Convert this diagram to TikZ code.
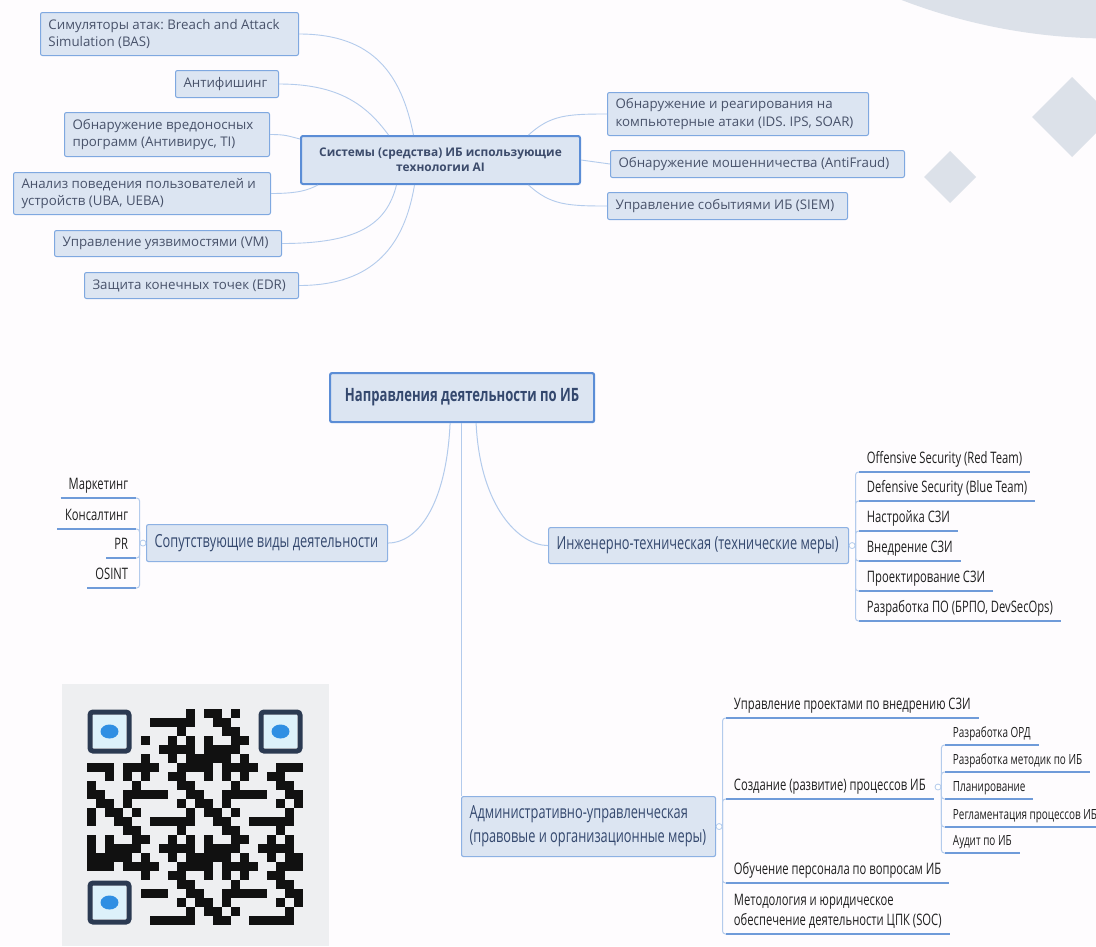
\documentclass[tikz,border=0pt]{standalone}
\usepackage{fontspec}
\setmainfont{Open Sans}
\newfontfamily\narrowfont[FakeStretch=0.71]{Open Sans}
\definecolor{pagebg}{HTML}{FEFCFE}
\definecolor{deco}{HTML}{DCE1E9}
\definecolor{boxfill}{HTML}{DCE5F2}
\definecolor{boxline}{HTML}{7FA8E0}
\definecolor{hubline}{HTML}{5B8DD6}
\definecolor{toptext}{HTML}{48526A}
\definecolor{hubtext}{HTML}{3C4B6B}
\definecolor{twigcol}{HTML}{B3CBEC}
\definecolor{mapline}{HTML}{8DB1E3}
\definecolor{maptext}{HTML}{34486E}
\definecolor{ulcol}{HTML}{6F9BD9}
\definecolor{leaftext}{HTML}{1F1F1F}
\definecolor{qrbg}{HTML}{EEEFF1}
\definecolor{qrdark}{HTML}{111111}
\definecolor{finderdark}{HTML}{2B3A52}
\definecolor{findercore}{HTML}{DDF1FA}
\definecolor{bugblue}{HTML}{2F8FE3}
\frenchspacing
\begin{document}
\begin{tikzpicture}[x=1pt,y=-1pt,line width=0.9pt,
    aibox/.style={draw=boxline,fill=boxfill,rounded corners=2pt,line width=1pt,anchor=north west,
      inner xsep=8pt,inner ysep=0pt,align=flush left,text=toptext,font=\fontsize{13.3}{17.3}\selectfont},
    hubbox/.style={aibox,draw=hubline,line width=2pt,align=center,text=hubtext,
      font=\fontsize{11.9}{15}\selectfont\bfseries},
    branch/.style={draw=mapline,fill=boxfill,rounded corners=2pt,line width=1.1pt,anchor=north west,
      inner xsep=8pt,inner ysep=0pt,align=flush left,text=maptext,font=\narrowfont\fontsize{18}{24}\selectfont},
    rootbox/.style={branch,draw=hubline,line width=2.2pt,align=center,font=\narrowfont\fontsize{18.4}{24}\selectfont\bfseries},
    leaf/.style={inner xsep=7.5pt,inner ysep=2pt,align=left,text=leaftext,anchor=south west,
      execute at end node=\strut,font=\narrowfont\fontsize{15.8}{20}\selectfont},
    subleaf/.style={leaf,font=\narrowfont\fontsize{14}{17}\selectfont},
    leafline/.style={draw=ulcol,line width=1.6pt},
    twig/.style={draw=twigcol,line width=0.9pt},
    spine/.style={draw=twigcol,line width=1pt,rounded corners=3pt},
    knob/.style={circle,draw=twigcol,fill=white,line width=0.8pt,inner sep=0pt,minimum size=6pt}]
\useasboundingbox (0,0) rectangle (1096,946);
\clip (0,0) rectangle (1096,946);
\fill[pagebg] (0,0) rectangle (1096,946);
\fill[deco] (1110,-542.5) circle (581pt);
\fill[deco] (1072,77) -- (1112,117) -- (1072,157) -- (1032,117) -- cycle;
\fill[deco] (950,151) -- (976,177) -- (950,203) -- (924,177) -- cycle;

\node[hubbox,minimum width=279pt,minimum height=48pt] (hub) at (300,135) {Системы (средства) ИБ использующие\\технологии AI};
\node[aibox,text width=242pt,minimum height=43pt] (bas) at (40,12) {Симуляторы атак: Breach and Attack\\Simulation (BAS)};
\node[aibox,text width=87pt,minimum height=27pt] (ant) at (175,70) {Антифишинг};
\node[aibox,text width=189pt,minimum height=44pt] (mal) at (64,112) {Обнаружение вредоносных\\программ (Антивирус, TI)};
\node[aibox,text width=241pt,minimum height=42pt] (uba) at (13,172) {Анализ поведения пользователей и\\устройств (UBA, UEBA)};
\node[aibox,text width=211pt,minimum height=26pt] (vm) at (54,230) {Управление уязвимостями (VM)};
\node[aibox,text width=198pt,minimum height=26pt] (edr) at (84,272) {Защита конечных точек (EDR)};
\node[aibox,text width=245pt,minimum height=43pt] (ids) at (607,92) {Обнаружение и реагирования на\\компьютерные атаки (IDS. IPS, SOAR)};
\node[aibox,text width=278pt,minimum height=27pt] (fraud) at (610,150) {Обнаружение мошенничества (AntiFraud)};
\node[aibox,text width=224pt,minimum height=27pt] (siem) at (607,192) {Управление событиями ИБ (SIEM)};

\draw[twig] (bas.east) .. controls +(75,0) and +(-12,-60) .. ([xshift=-27pt]hub.north);
\draw[twig] (ant.east) .. controls +(60,0) and +(-22,-30) .. ([xshift=-52pt]hub.north);
\draw[twig] (mal.east) .. controls +(16,0) and +(-12,-3) .. ([yshift=-4pt]hub.north west);
\draw[twig] (uba.east) .. controls +(28,0) and +(-10,5) .. ([xshift=18pt]hub.south west);
\draw[twig] (vm.east) .. controls +(75,0) and +(-10,40) .. ([xshift=-44pt]hub.south);
\draw[twig] (edr.east) .. controls +(75,0) and +(-10,60) .. ([xshift=-26pt]hub.south);
\draw[twig] ([xshift=88pt]hub.north) .. controls +(22,-20) and +(-40,0) .. (ids.west);
\draw[twig] (hub.east) -- (fraud.west);
\draw[twig] ([xshift=88pt]hub.south) .. controls +(22,20) and +(-40,0) .. (siem.west);

\node[rootbox,minimum width=264pt,minimum height=49pt] (root) at (329,372) {Направления деятельности по ИБ};
\node[branch,text width=225pt,minimum height=37pt] (sop) at (146,524) {Сопутствующие виды деятельности};
\node[branch,text width=284pt,minimum height=36pt] (ing) at (548,527) {Инженерно-техническая (технические меры)};
\node[branch,text width=238pt,minimum height=60pt] (adm) at (461,796) {Административно-управленческая\\(правовые и организационные меры)};

\draw[twig,line width=1pt] ([xshift=-12pt]root.south) .. controls +(-4,85) and +(28,0) .. (sop.east);
\draw[twig,line width=1pt] ([xshift=14pt]root.south) .. controls +(4,85) and +(-28,0) .. (ing.west);
\draw[twig,line width=1pt] (adm.north west |- root.south) -- (adm.north west);

\node[leaf,anchor=south east] (mk) at (136,498) {Маркетинг};
\node[leaf,anchor=south east] (ks) at (136,529) {Консалтинг};
\node[leaf,anchor=south east] (pr) at (136,558) {PR};
\node[leaf,anchor=south east] (os) at (136,588) {OSINT};
\node[knob] (k1) at ([xshift=-3pt]sop.west) {};
\foreach \n in {mk,ks,pr,os} {
  \draw[spine] (k1.west) |- (\n.south east);
  \draw[leafline] (\n.south west) -- (\n.south east);
}

\node[leaf] (off) at (859,472) {Offensive Security (Red Team)};
\node[leaf] (def) at (859,501) {Defensive Security (Blue Team)};
\node[leaf] (nas) at (859,531) {Настройка СЗИ};
\node[leaf] (vne) at (859,561) {Внедрение СЗИ};
\node[leaf] (pro) at (859,591) {Проектирование СЗИ};
\node[leaf] (raz) at (859,621) {Разработка ПО (БРПО, DevSecOps)};
\node[knob] (k2) at ([xshift=3pt]ing.east) {};
\foreach \n in {off,def,nas,vne,pro,raz} {
  \draw[spine] (k2.east) |- (\n.south west);
  \draw[leafline] (\n.south west) -- (\n.south east);
}

\node[leaf] (upr) at (726,718) {Управление проектами по внедрению СЗИ};
\node[leaf] (cr) at (726,799) {Создание (развитие) процессов ИБ};
\node[leaf] (obu) at (726,883) {Обучение персонала по вопросам ИБ};
\node[leaf] (met) at (726,934) {Методология и юридическое\\обеспечение деятельности ЦПК (SOC)};
\node[knob] (k3) at ([xshift=3pt]adm.east) {};
\foreach \n in {upr,cr,obu,met} {
  \draw[spine] (k3.east) |- (\n.south west);
  \draw[leafline] (\n.south west) -- (\n.south east);
}

\node[subleaf] (ord) at (945,745) {Разработка ОРД};
\node[subleaf] (mtd) at (945,772) {Разработка методик по ИБ};
\node[subleaf] (pla) at (945,799) {Планирование};
\node[subleaf] (reg) at (945,827) {Регламентация процессов ИБ};
\node[subleaf] (aud) at (945,853) {Аудит по ИБ};
\node[knob] (k4) at (938,787) {};
\foreach \n in {ord,mtd,pla,reg,aud} {
  \draw[spine] (k4.east) |- (\n.south west);
  \draw[leafline] (\n.south west) -- (\n.south east);
}

\fill[qrbg] (62,684) rectangle (329,946);
\foreach \i in {0,...,23} {
  \foreach \j in {0,...,23} {
    \pgfmathtruncatemacro\qskip{or(or(and(\i<6,\j<6),and(\i>17,\j<6)),and(\i<6,\j>17))}
    \pgfmathtruncatemacro\qh{mod(\i*7+\j*13+\i*\j*5+\i*\i*3+\j*\j,11)}
    \ifnum\qskip=0 \ifnum\qh<6 \fill[qrdark] (87+9*\i,709+9*\j) rectangle ++(9,9); \fi\fi
  }
}
\foreach \fx/\fy in {87/709,258/709,87/880} {
  \draw[finderdark,line width=5pt,rounded corners=3pt] (\fx+3,\fy+3) rectangle ++(39,39);
  \fill[findercore] (\fx+6,\fy+6) rectangle ++(33,33);
  \fill[bugblue] (\fx+22.5,\fy+22.5) ellipse (9pt and 7pt);
}
\end{tikzpicture}
\end{document}
